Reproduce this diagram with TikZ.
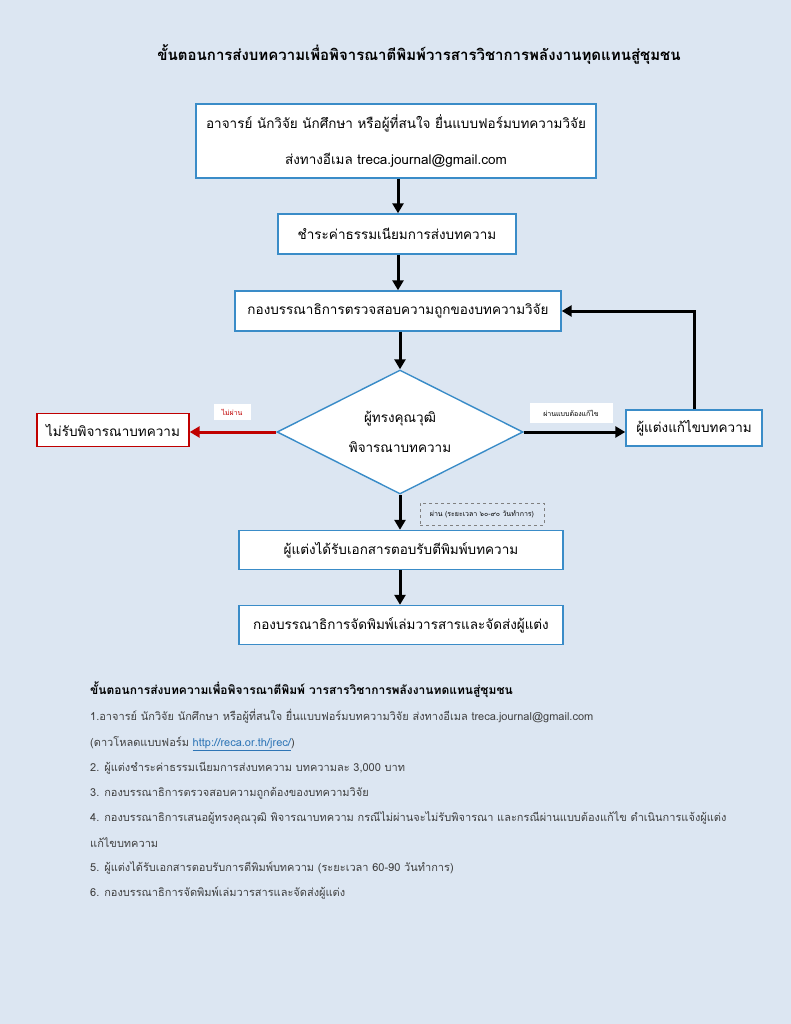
\documentclass[tikz,border=0pt]{standalone}
\usepackage{fontspec}
\setmainfont[Script=Thai]{Loma}
\usetikzlibrary{shapes.geometric,arrows.meta}
\definecolor{bg}{HTML}{DCE6F2}
\definecolor{boxblue}{HTML}{3A8CC8}
\definecolor{darkred}{HTML}{C00000}
\definecolor{txtgrey}{HTML}{404040}
\definecolor{linkblue}{HTML}{2E75B6}
\begin{document}
\begin{tikzpicture}[x=1pt,y=-1pt,
  flowbox/.style={draw=boxblue,line width=1.4pt,fill=white,inner sep=0pt,font=\fontsize{13.5}{16}\selectfont},
  redbox/.style={draw=darkred,line width=1.4pt,fill=white,inner sep=0pt,font=\fontsize{13.5}{16}\selectfont},
  flowarrow/.style={line width=3pt,-{Triangle[length=10pt,width=11pt]}},
  smalllabel/.style={fill=white,inner sep=0pt,font=\fontsize{7}{8}\selectfont},
  bodytext/.style={anchor=west,inner sep=0pt,text=txtgrey,font=\fontsize{11}{13}\selectfont}]
\fill[bg] (0,0) rectangle (791,1024);
\useasboundingbox (0,0) rectangle (791,1024);

\node[font=\bfseries\fontsize{15}{18}\selectfont] (title) at (419,55) {ขั้นตอนการส่งบทความเพื่อพิจารณาตีพิมพ์วารสารวิชาการพลังงานทุดแทนสู่ชุมชน};

\node[flowbox,minimum width=400pt,minimum height=74pt,align=center] (b1) at (396,141)
  {อาจารย์ นักวิจัย นักศึกษา หรือผู้ที่สนใจ ยื่นแบบฟอร์มบทความวิจัย\\[20pt]ส่งทางอีเมล treca.journal@gmail.com};
\node[flowbox,minimum width=238pt,minimum height=40pt] (b2) at (397,234) {ชำระค่าธรรมเนียมการส่งบทความ};
\node[flowbox,minimum width=326pt,minimum height=40pt] (b3) at (398,311) {กองบรรณาธิการตรวจสอบความถูกของบทความวิจัย};
\node[flowbox,shape=diamond,aspect=2,minimum width=246pt,minimum height=124pt,align=center] (d) at (400,432)
  {ผู้ทรงคุณวุฒิ\\[14pt]พิจารณาบทความ};
\node[redbox,minimum width=152pt,minimum height=33pt] (rej) at (113,430) {ไม่รับพิจารณาบทความ};
\node[flowbox,minimum width=136pt,minimum height=36pt] (rev) at (694,428) {ผู้แต่งแก้ไขบทความ};
\node[flowbox,minimum width=324pt,minimum height=39pt] (b5) at (401,550) {ผู้แต่งได้รับเอกสารตอบรับตีพิมพ์บทความ};
\node[flowbox,minimum width=324pt,minimum height=39pt] (b6) at (401,625) {กองบรรณาธิการจัดพิมพ์เล่มวารสารและจัดส่งผู้แต่ง};

\draw[flowarrow] (b1.south -| 398,0) -- (b2.north -| 398,0);
\draw[flowarrow] (b2.south -| 398,0) -- (b3.north -| 398,0);
\draw[flowarrow] (b3.south -| 400,0) -- (d.north);
\draw[flowarrow,darkred] (d.west) -- (d.west -| rej.east);
\draw[flowarrow] (d.east) -- (d.east -| rev.west);
\draw[flowarrow] (rev.north) -- (rev.north |- b3.east) -- (b3.east);
\draw[flowarrow] (d.south) -- (b5.north -| d.south);
\draw[flowarrow] (b5.south -| 400,0) -- (b6.north -| 400,0);

\node[smalllabel,text=darkred,minimum width=37pt,minimum height=16pt] (l1) at (232,412) {ไม่ผ่าน};
\node[smalllabel,minimum width=83pt,minimum height=20pt] (l2) at (571,413) {ผ่านแบบต้องแก้ไข};
\node[draw=gray,dashed,line width=1pt,inner sep=0pt,minimum width=124pt,minimum height=22pt,font=\fontsize{7}{8}\selectfont] (l3) at (482,514) {ผ่าน (ระยะเวลา ๖๐-๙๐ วันทำการ)};

\node[anchor=west,inner sep=0pt,font=\bfseries\fontsize{12}{14}\selectfont] (t0) at (90,690) {ขั้นตอนการส่งบทความเพื่อพิจารณาตีพิมพ์ วารสารวิชาการพลังงานทดแทนสู่ชุมชน};
\node[bodytext] (t1) at (90,716) {1.อาจารย์ นักวิจัย นักศึกษา หรือผู้ที่สนใจ ยื่นแบบฟอร์มบทความวิจัย ส่งทางอีเมล treca.journal@gmail.com};
\node[bodytext] (t2) at (90,744) {(ดาวโหลดแบบฟอร์ม {\color{linkblue}\underline{http://reca.or.th/jrec/}})};
\node[bodytext] (t3) at (90,768) {2. ผู้แต่งชำระค่าธรรมเนียมการส่งบทความ บทความละ 3,000 บาท};
\node[bodytext] (t4) at (90,793) {3. กองบรรณาธิการตรวจสอบความถูกต้องของบทความวิจัย};
\node[bodytext] (t5) at (90,818) {4. กองบรรณาธิการเสนอผู้ทรงคุณวุฒิ พิจารณาบทความ กรณีไม่ผ่านจะไม่รับพิจารณา และกรณีผ่านแบบต้องแก้ไข ดำเนินการแจ้งผู้แต่ง};
\node[bodytext] (t6) at (90,843) {แก้ไขบทความ};
\node[bodytext] (t7) at (90,868) {5. ผู้แต่งได้รับเอกสารตอบรับการตีพิมพ์บทความ (ระยะเวลา 60-90 วันทำการ)};
\node[bodytext] (t8) at (90,893) {6. กองบรรณาธิการจัดพิมพ์เล่มวารสารและจัดส่งผู้แต่ง};
\end{tikzpicture}
\end{document}
